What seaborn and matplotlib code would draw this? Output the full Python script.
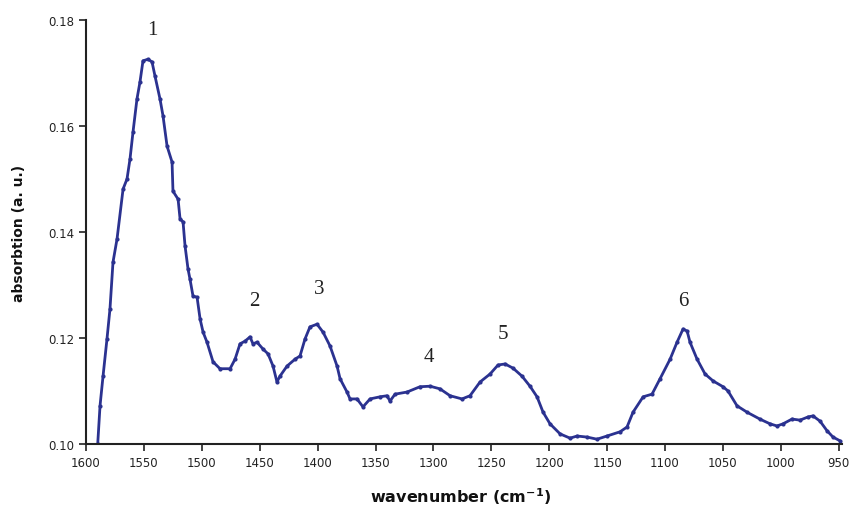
import matplotlib
matplotlib.use("Agg")
import matplotlib.pyplot as plt
import seaborn as sns
import pandas as pd

wavenumber = [1589.9, 1587.9, 1585.3, 1581.9, 1579.3, 1576.7, 1573.2, 1568.0, 1564.6, 1562.0,
              1559.4, 1556.0, 1553.4, 1550.8, 1546.5, 1543.0, 1540.4, 1536.1, 1533.5, 1530.0,
              1525.7, 1524.9, 1520.5, 1518.8, 1516.2, 1514.5, 1511.9, 1510.2, 1507.6, 1504.1,
              1501.5, 1498.9, 1495.5, 1490.3, 1484.3, 1475.6, 1471.3, 1467.0, 1462.7, 1458.4,
              1455.8, 1452.3, 1447.1, 1442.8, 1438.5, 1435.1, 1432.5, 1426.4, 1419.5, 1415.2,
              1410.9, 1406.6, 1400.5, 1395.3, 1389.3, 1383.2, 1380.6, 1374.6, 1372.0, 1366.0,
              1360.8, 1354.7, 1346.1, 1340.1, 1337.5, 1333.1, 1322.8, 1311.6, 1302.9, 1294.3,
              1285.6, 1275.3, 1268.4, 1259.7, 1251.1, 1244.2, 1238.1, 1231.2, 1223.5, 1216.6,
              1210.5, 1205.3, 1199.3, 1190.6, 1182.0, 1175.9, 1167.3, 1158.7, 1150.1, 1138.8,
              1132.8, 1127.6, 1118.9, 1111.2, 1104.3, 1095.6, 1089.6, 1084.4, 1080.9, 1078.4,
              1072.3, 1065.4, 1058.5, 1049.9, 1045.6, 1037.8, 1029.2, 1018.1, 1009.3, 1003.3,
              998.1, 990.3, 983.4, 976.5, 972.2, 966.1, 960.1, 954.9, 948.9]
absorption = [0.1000, 0.1072, 0.1128, 0.1198, 0.1255, 0.1343, 0.1387, 0.1481, 0.1500, 0.1538,
              0.1589, 0.1651, 0.1683, 0.1723, 0.1726, 0.1721, 0.1694, 0.1651, 0.1619, 0.1562,
              0.1532, 0.1477, 0.1462, 0.1425, 0.1419, 0.1374, 0.1330, 0.1311, 0.1279, 0.1277,
              0.1236, 0.1211, 0.1192, 0.1155, 0.1142, 0.1142, 0.1160, 0.1189, 0.1194, 0.1202,
              0.1189, 0.1192, 0.1179, 0.1170, 0.1147, 0.1117, 0.1128, 0.1147, 0.1160, 0.1166,
              0.1198, 0.1221, 0.1226, 0.1211, 0.1185, 0.1147, 0.1123, 0.1098, 0.1085, 0.1085,
              0.1070, 0.1085, 0.1089, 0.1091, 0.1081, 0.1094, 0.1098, 0.1108, 0.1109, 0.1104,
              0.1091, 0.1085, 0.1091, 0.1117, 0.1132, 0.1149, 0.1151, 0.1143, 0.1128, 0.1109,
              0.1089, 0.1060, 0.1038, 0.1019, 0.1011, 0.1015, 0.1013, 0.1009, 0.1015, 0.1023,
              0.1032, 0.1060, 0.1089, 0.1094, 0.1123, 0.1160, 0.1192, 0.1217, 0.1213, 0.1192,
              0.1160, 0.1132, 0.1119, 0.1108, 0.1100, 0.1072, 0.1060, 0.1047, 0.1038, 0.1034,
              0.1038, 0.1047, 0.1045, 0.1051, 0.1053, 0.1043, 0.1025, 0.1013, 0.1006]

peak_labels = ["1", "2", "3", "4", "5", "6"]
peak_x = [1543, 1455, 1399, 1304, 1240, 1084]
peak_y = [0.1783, 0.1270, 0.1294, 0.1166, 0.1208, 0.1270]

x_ticks = [1600, 1550, 1500, 1450, 1400, 1350, 1300, 1250, 1200, 1150, 1100, 1050, 1000, 950]
y_ticks = [0.10, 0.12, 0.14, 0.16, 0.18]

df = pd.DataFrame({"wavenumber": wavenumber, "absorption": absorption})

sns.set_style("ticks")
plt.rcParams['font.family'] = ['DejaVu Sans']

fig = plt.figure(figsize=(8.55, 5.10), dpi=100)
ax = fig.add_axes([0.1006, 0.1275, 0.8844, 0.8313])

line_color = "#2b3290"
sns.lineplot(data=df, x="wavenumber", y="absorption", ax=ax, color=line_color,
             linewidth=2.0, marker="o", markersize=3, markeredgewidth=0,
             markerfacecolor=line_color, sort=False)

ax.set_xlim(1600, 947)
ax.set_ylim(0.10, 0.18)
ax.set_xticks(x_ticks)
ax.set_xticklabels([str(t) for t in x_ticks])
ax.set_yticks(y_ticks)
ax.set_yticklabels([f"{t:.2f}" for t in y_ticks])
ax.tick_params(axis="both", labelsize=8.5, length=5, width=1.2, color="#222222",
               labelcolor="#222222", direction="out")

for s in ["top", "right"]:
    ax.spines[s].set_visible(False)
for s in ["left", "bottom"]:
    ax.spines[s].set_linewidth(1.5)
    ax.spines[s].set_color("#222222")

ax.set_xlabel("wavenumber (cm$^{\\mathbf{-1}}$)", fontsize=11.5, fontweight="bold", color="#111111")
ax.set_ylabel("absorbtion (a. u.)", fontsize=10, fontweight="bold", color="#111111")
ax.xaxis.set_label_coords(0.495, -0.098)
ax.yaxis.set_label_coords(-0.079, 0.5)

for lab, px, py in zip(peak_labels, peak_x, peak_y):
    ax.text(px, py, lab, ha="center", va="center", fontsize=15,
            family=["Liberation Serif", "DejaVu Serif"], color="#222222")

fig.savefig("out.png", dpi=100, facecolor="white")
